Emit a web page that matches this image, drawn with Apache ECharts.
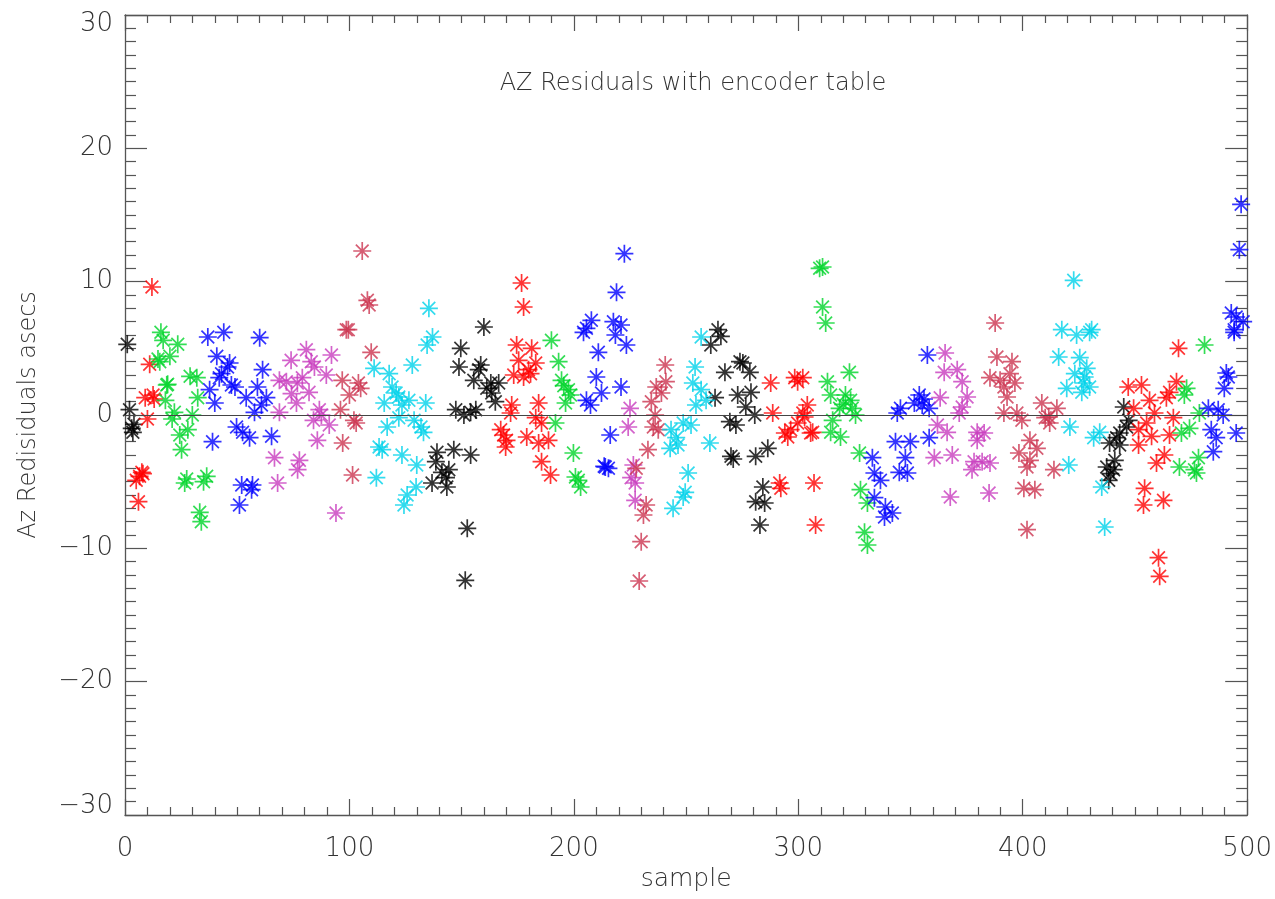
<!DOCTYPE html>
<html>
<head>
<meta charset="utf-8">
<script src="https://cdn.jsdelivr.net/npm/echarts@6/dist/echarts.min.js"></script>
<style>html,body{margin:0;padding:0;background:#fff;}#c{width:1275px;height:899px;}</style>
</head>
<body>
<div id="c"></div>
<script>
const xTicks = [0, 100, 200, 300, 400, 500];
const yTicks = [-30, -20, -10, 0, 10, 20, 30];

const sBlack = [[1,5.3],[2,0.4],[3,-1.0],[3.5,-1.3],[4,-0.7],
 [159.9,6.6],[149.6,5.0],[148.8,3.6],[158.5,3.75],[157.6,3.4],[155.4,2.6],[163,2.4],[166.5,2.4],[161.2,2.0],[163.4,1.65],[165,1.0],[147.4,0.4],[151,0],[156.3,0.4],[154,0.2],[139,-2.8],[146.5,-2.6],[154,-3],[138.5,-3.5],[141.2,-4.3],[144.3,-4.1],[143,-4.7],[136.8,-5.1],[143.4,-5.4],[152.5,-8.5],[151.6,-12.4],
 [264.2,6.4],[265.5,5.9],[261,5.25],[274,4.0],[275.3,3.9],[267.3,3.2],[278.4,3.2],[262.9,1.3],[278.9,1.7],[273,1.5],[276.6,0.6],[280.6,0],[269.5,-0.5],[272.2,-0.75],[270,-3.1],[281,-3.1],[286.4,-2.5],[284.2,-5.4],[281,-6.5],[285,-6.6],[282.9,-8.25],[271,-3.3],
 [445,0.6],[447.2,-0.4],[446.3,-0.9],[443.2,-1.35],[441.8,-1.7],[438.7,-2.1],[443.2,-2.25],[441,-3.4],[437.4,-3.9],[440.5,-4.1],[438.3,-4.9],[439,-4.4]];

const sRed = [[12,9.6],[11,3.8],[9,1.3],[12.5,1.5],[10,-0.3],[7.5,-4.3],[5,-4.9],[8,-4.4],[6,-6.5],[13,1.2],[6.5,-4.6],
 [176.7,9.9],[177.6,8.1],[174.5,5.25],[181.2,5.0],[175.4,4.1],[183,3.9],[179.8,3.4],[173.2,3.0],[177.6,2.85],[180.7,3.1],[172.3,0.75],[184.3,0.9],[171.8,0.15],[183,-0.2],[185.6,-0.6],[167.4,-1.1],[168.7,-1.5],[170,-1.9],[179,-1.65],[184.3,-2.1],[188.7,-1.9],[185.6,-3.5],[189.6,-4.5],[169.6,-2.4],
 [287.7,2.4],[298.4,2.8],[299.7,2.5],[288.6,0.15],[302,0.15],[302.8,-0.15],[299.7,-0.6],[296.6,-1.1],[294,-1.35],[295.3,-1.65],[305.5,-1.35],[291.7,-5.1],[292.2,-5.5],[304,0.75],[306.4,-1.3],[307,-5.1],[307.7,-8.25],[302,2.8],
 [469.4,5.0],[447,2.1],[452.9,2.25],[468.5,2.5],[465.4,1.7],[464,1.3],[456.5,1.1],[449.4,0.5],[458.7,0.15],[467.1,-0.2],[455.2,-0.6],[451.6,-1.1],[457.4,-1.6],[465.4,-1.5],[451.6,-2.25],[463.1,-3],[459.6,-3.6],[454.3,-5.5],[453.8,-6.75],[462.7,-6.4],[460.5,-10.7],[461,-12.1]];

const sGreen = [[16,6.2],[17,5.6],[23.5,5.3],[20,4.4],[14.7,4.2],[19,2.3],[29,2.9],[32,2.8],[18,1.1],[32.4,1.3],[22,0.2],[21,-0.3],[30,0],[28,-1.1],[24.4,-1.5],[25.2,-2.6],[26.6,-5.1],[27.5,-4.8],[36.4,-4.6],[35,-5],[33.3,-7.3],[34,-8],[18.6,2.25],[15.5,4.0],
 [190,5.6],[193.2,4.0],[194.5,2.6],[197.6,1.9],[196.3,0.9],[191.8,-0.6],[199.8,-2.85],[200.7,-4.65],[202,-4.9],[203,-5.4],[195.5,2.2],[198.5,1.5],
 [309.5,11.0],[310.8,11.1],[310.8,8.1],[312.2,6.9],[322.8,3.2],[313,2.5],[321,1.5],[314.4,1.5],[323.3,1.1],[318.4,0.5],[325.5,0],[315.3,-0.4],[314.4,-1.3],[318.8,-1.65],[327.3,-2.85],[327.7,-5.6],[330.8,-6.6],[329.5,-8.8],[330.8,-9.75],[320,0.8],[324,0.5],
 [481,5.25],[473,2.0],[472,1.5],[478.7,0.15],[474.3,-1.0],[470.7,-1.35],[478.3,-3.2],[469.8,-3.9],[476.5,-4.1],[477.4,-4.35]];

const sBlue = [[36.9,5.85],[44,6.2],[60,5.8],[40.9,4.4],[46.6,3.9],[45.7,3.6],[43,3.1],[42,2.8],[47.4,2.25],[49,2.1],[61.3,3.4],[59,2.1],[37.7,1.9],[54,1.3],[63,1.3],[40,0.9],[57.7,0.2],[60.8,0.75],[49.7,-0.9],[52.4,-1.3],[55.5,-1.7],[39,-2],[65.3,-1.6],[52,-5.25],[56.8,-5.25],[56.4,-5.6],[51,-6.75],
 [222.5,12.1],[219,9.2],[207.8,7.1],[217.6,7.0],[205.6,6.5],[221,6.75],[204.3,6.2],[218.5,6],[223.4,5.25],[210.9,4.7],[210,2.85],[221,2.1],[212.3,1.65],[205.6,1.1],[207.4,0.75],[216.2,-1.5],[214,-3.9],[215.4,-4],[213.5,-3.85],
 [357.5,4.5],[353.9,1.5],[351.7,0.9],[355.2,0.75],[345.5,0.5],[344.1,0.15],[358.3,0.5],[349.9,-2.0],[343.3,-2.0],[347.7,-3.2],[358.3,-1.7],[333,-3.2],[345,-4.3],[348.6,-4.35],[333.9,-4.35],[336.6,-4.9],[333.9,-6.2],[338.8,-6.9],[341.9,-7.35],[338.4,-7.65],[356,1.2],
 [497.3,15.8],[496.5,12.4],[492.9,7.65],[495.1,7.35],[498.2,7.0],[494.2,6.2],[494.2,6.4],[490.7,3.15],[489.8,2.0],[491.6,2.85],[482.7,0.5],[487.1,0.4],[489.3,0],[484,-1.1],[495.1,-1.35],[486.2,-1.7],[484.9,-2.75]];

const sMagenta = [[80.8,4.9],[92,4.5],[74,4.1],[83,4.0],[84.4,3.6],[68.8,2.6],[79,2.8],[89.7,3.0],[71.9,2.5],[76.8,2.4],[74.2,1.6],[82,1.7],[76.4,0.9],[68.8,0.2],[86.6,0.4],[87.5,0],[84,-0.4],[91,-0.75],[85.7,-1.9],[66.6,-3.2],[77.7,-3.4],[76.9,-4.1],[68,-5.1],[94,-7.35],
 [225,0.5],[224.2,-0.9],[227.3,-5.1],[227.3,-6.4],[225.5,-4.7],[226.5,-3.75],
 [365.4,4.65],[370.8,3.4],[365,3.2],[373,2.5],[363.2,1.3],[375.2,1.35],[373,0.6],[371.7,0.15],[362,-0.75],[366.3,-1.3],[379.7,-1.3],[382.8,-1.35],[379.7,-1.9],[360.6,-3.2],[368.6,-3],[378.3,-3.5],[381.9,-3.5],[385.4,-3.6],[377.4,-4.1],[367.7,-6.15],[385,-5.85]];

const sCrimson = [[105.7,12.3],[108,8.6],[108.8,8.25],[98.6,6.4],[99.5,6.4],[109.7,4.7],[105,2],[100,1.5],[96.8,2.6],[96,0.4],[102,-0.4],[103,-0.6],[97,-2.1],[101.4,-4.5],[104,2.4],
 [240.7,3.75],[241,2.5],[236.7,2.1],[239,1.65],[234.5,1.0],[236.2,0],[235.4,-0.9],[237.6,-1.1],[233,-2.6],[227.8,-4],[232.2,-6.75],[231,-7.5],[230,-9.5],[229.1,-12.45],
 [387.7,6.9],[388.5,4.35],[395.2,4.0],[385.4,2.8],[389.9,2.6],[394.3,3.1],[391.6,2.1],[396.5,2.4],[393,1.35],[391.6,0.15],[397.4,0.15],[399.6,-0.4],[408.5,0.9],[415.2,0.5],[411.6,-0.15],[412,-0.6],[410,-0.2],[403.2,-1.9],[406.3,-2.5],[398.3,-2.85],[403.2,-3.4],[401.9,-3.9],[413.9,-4.1],[400.5,-5.5],[405.4,-5.6],[401.9,-8.6]];

const sCyan = [[135.4,8.0],[137,5.85],[134.6,5.25],[111,3.5],[117.7,3.1],[128,3.75],[119,2.1],[120.8,1.65],[122,1.35],[115.5,0.9],[126.5,1.1],[134,0.9],[123.4,0.75],[122,-0.2],[128.8,-0.4],[131.9,-0.9],[133,-1.3],[116.8,-0.9],[113.2,-2.4],[114.6,-2.6],[123.4,-3],[130,-3.75],[112,-4.7],[129.7,-5.4],[125.7,-6],[124.3,-6.75],
 [256.7,5.85],[254,3.6],[253,2.4],[256.7,1.9],[258.9,1.1],[254.4,0.75],[248.7,-0.6],[252.2,-0.75],[243.3,-1.1],[245.6,-1.7],[242.9,-2.5],[246.4,-2.25],[260.6,-2.1],[250.9,-4.35],[249.6,-5.8],[248.7,-6.15],[244.2,-7],
 [422.7,10.1],[417.4,6.4],[424,6],[429.8,6.2],[416,4.35],[425.4,4.3],[423.2,3.1],[427.6,2.85],[419.6,2.0],[429.8,2.1],[421,-0.9],[420.5,-3.75],[431.6,-1.7],[430.7,6.4],[428.5,3.5],[427,2.4],[426.3,1.7],[434.3,-1.3],[435.2,-5.4],[436.5,-8.4]];

const seriesDefs = [
  {name:'black', data:sBlack, color:'#000000'},
  {name:'red', data:sRed, color:'#ff0000'},
  {name:'green', data:sGreen, color:'#00d42a'},
  {name:'blue', data:sBlue, color:'#0000ff'},
  {name:'magenta', data:sMagenta, color:'#c83cbe'},
  {name:'crimson', data:sCrimson, color:'#cc3450'},
  {name:'cyan', data:sCyan, color:'#00d2ea'}
];

const STAR = 'path://M10 0L10 20M0 10L20 10M2.93 2.93L17.07 17.07M2.93 17.07L17.07 2.93';
const FONT = "'DejaVu Sans ExtraLight', 'DejaVu Sans'";
const FW = 200;
const TXT = '#333';
const AX = '#555';

const chart = echarts.init(document.getElementById('c'), null, {renderer:'canvas'});

function yFmt(v){
  const s = (v < 0 ? '\u2212' : '') + Math.abs(v);
  if (v === 30) return '{t|' + s + '}';
  if (v === -30) return '{b|' + s + '}';
  return '{n|' + s + '}';
}

const series = seriesDefs.map(d => ({
  type:'scatter',
  name:d.name,
  data:d.data,
  symbol:STAR,
  symbolSize:18,
  itemStyle:{color:d.color, borderColor:d.color, borderWidth:1.7},
  silent:true,
  z:3
}));
series.unshift({
  type:'line', data:[], silent:true,
  markLine:{silent:true, symbol:['none','none'], label:{show:false},
    lineStyle:{color:'#444', width:1.2, type:'solid'}, data:[{yAxis:0}]},
  z:2
});

const baseX = {type:'value', min:xTicks[0], max:xTicks[xTicks.length-1], interval:100};
const baseY = {type:'value', min:yTicks[0], max:yTicks[yTicks.length-1], interval:10};
const lblStyle = {fontFamily:FONT, fontWeight:FW, fontSize:26, color:TXT};

chart.setOption({
  animation:false,
  backgroundColor:'#fff',
  title:{text:'AZ Residuals with encoder table', left:688, top:67, textAlign:'center',
    textStyle:{fontFamily:FONT, fontWeight:FW, fontSize:24, color:TXT}},
  grid:{left:125, right:24, top:15, bottom:84, containLabel:false},
  xAxis:[
    Object.assign({}, baseX, {position:'bottom', name:'sample', nameLocation:'middle', nameGap:52,
      nameTextStyle:{fontFamily:FONT, fontWeight:FW, fontSize:25, color:TXT},
      axisLine:{show:true, onZero:false, lineStyle:{color:AX, width:1.3}},
      axisTick:{show:true, inside:true, length:16, lineStyle:{color:AX, width:1.2}},
      minorTick:{show:true, splitNumber:10, length:8, lineStyle:{color:AX, width:1.2}},
      splitLine:{show:false},
      axisLabel:Object.assign({margin:21}, lblStyle)}),
    Object.assign({}, baseX, {position:'top',
      axisLine:{show:true, onZero:false, lineStyle:{color:AX, width:1.3}},
      axisTick:{show:true, inside:true, length:16, lineStyle:{color:AX, width:1.2}},
      minorTick:{show:true, splitNumber:10, length:8, lineStyle:{color:AX, width:1.2}},
      splitLine:{show:false}, axisLabel:{show:false}})
  ],
  yAxis:[
    Object.assign({}, baseY, {position:'left', name:'Az Redisiduals asecs', nameLocation:'middle', nameGap:84,
      nameTextStyle:{fontFamily:FONT, fontWeight:FW, fontSize:24, color:TXT},
      axisLine:{show:true, onZero:false, lineStyle:{color:AX, width:1.3}},
      axisTick:{show:true, inside:true, length:22, lineStyle:{color:AX, width:1.2}},
      minorTick:{show:true, splitNumber:10, length:11, lineStyle:{color:AX, width:1.2}},
      splitLine:{show:false},
      axisLabel:Object.assign({margin:12, formatter:yFmt,
        rich:{
          n:Object.assign({}, lblStyle),
          t:Object.assign({padding:[18,0,0,0]}, lblStyle),
          b:Object.assign({padding:[0,0,18,0]}, lblStyle)
        }}, lblStyle)}),
    Object.assign({}, baseY, {position:'right',
      axisLine:{show:true, onZero:false, lineStyle:{color:AX, width:1.3}},
      axisTick:{show:true, inside:true, length:22, lineStyle:{color:AX, width:1.2}},
      minorTick:{show:true, splitNumber:10, length:11, lineStyle:{color:AX, width:1.2}},
      splitLine:{show:false}, axisLabel:{show:false}})
  ],
  series:series
});
</script>
</body>
</html>
